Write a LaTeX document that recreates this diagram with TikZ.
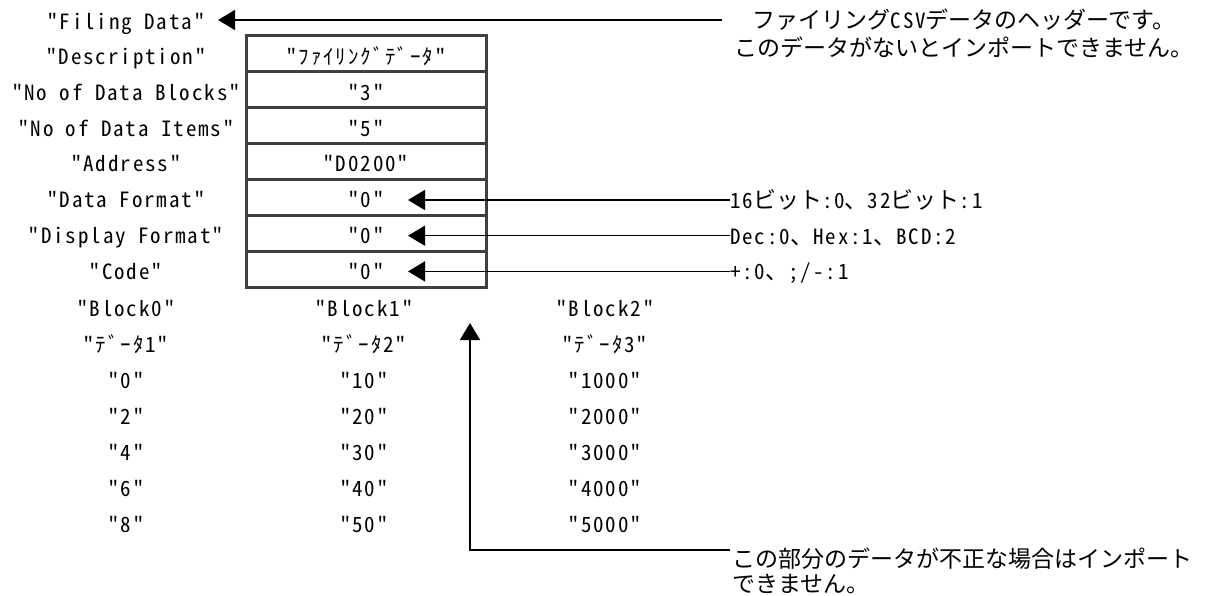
\documentclass[tikz,border=0pt]{standalone}
\usepackage{fontspec}
\usetikzlibrary{arrows.meta}
\newfontfamily\jpf{Noto Sans CJK JP}
\newfontfamily\hwf{Noto Sans CJK JP}[RawFeature=+hwid, LetterSpace=9]
\newcommand{\hwtext}[1]{{\hwf\fontsize{21bp}{25bp}\selectfont #1}}
\tikzset{
  lbl/.style={font=\hwf\fontsize{21bp}{25bp}\selectfont, inner sep=0pt, text height=15.4bp, text depth=0pt},
  jpl/.style={font=\jpf\fontsize{23bp}{27bp}\selectfont, inner sep=0pt, text height=17bp, text depth=0pt},
  cellbox/.style={draw=black!75, line width=3bp, minimum width=240bp, minimum height=36bp, inner sep=0pt},
  arr/.style={line width=1.5bp, -{Triangle[length=17bp,width=20bp]}}
}
\begin{document}
\begin{tikzpicture}[x=1bp,y=-1bp]
\useasboundingbox (0,0) rectangle (1206,596);
% table cells
\node[cellbox] (c1) at (366,54) {};
\node[cellbox] (c2) at (366,90) {};
\node[cellbox] (c3) at (366,126) {};
\node[cellbox] (c4) at (366,162) {};
\node[cellbox] (c5) at (366,198) {};
\node[cellbox] (c6) at (366,234) {};
\node[cellbox] (c7) at (366,270) {};
% left labels
\node[lbl] (l0) at (126,21.5) {"Filing Data"};
\node[lbl] (l1) at (126,57.2) {"Description"};
\node[lbl] (l2) at (126,92.9) {"No of Data Blocks"};
\node[lbl] (l3) at (126,128.6) {"No of Data Items"};
\node[lbl] (l4) at (126,164.3) {"Address"};
\node[lbl] (l5) at (126,200) {"Data Format"};
\node[lbl] (l6) at (126,235.7) {"Display Format"};
\node[lbl] (l7) at (126,271.4) {"Code"};
% values
\node[lbl] (v1) at (366,57.2) {"ﾌｧｲﾘﾝｸﾞﾃﾞｰﾀ"};
\node[lbl] (v2) at (366,92.9) {"3"};
\node[lbl] (v3) at (366,128.6) {"5"};
\node[lbl] (v4) at (366,164.3) {"D0200"};
\node[lbl] (v5) at (366,200) {"0"};
\node[lbl] (v6) at (366,235.7) {"0"};
\node[lbl] (v7) at (366,271.4) {"0"};
% blocks
\node[lbl] (b0) at (126,309) {"Block0"};
\node[lbl] (b1) at (364,309) {"Block1"};
\node[lbl] (b2) at (605,309) {"Block2"};
\node[lbl] (d0) at (126,345) {"ﾃﾞｰﾀ1"};
\node[lbl] (d1) at (364,345) {"ﾃﾞｰﾀ2"};
\node[lbl] (d2) at (605,345) {"ﾃﾞｰﾀ3"};
\node[lbl] (e00) at (126,381) {"0"};
\node[lbl] (e01) at (126,417) {"2"};
\node[lbl] (e02) at (126,453) {"4"};
\node[lbl] (e03) at (126,489) {"6"};
\node[lbl] (e04) at (126,525) {"8"};
\node[lbl] (e10) at (364,381) {"10"};
\node[lbl] (e11) at (364,417) {"20"};
\node[lbl] (e12) at (364,453) {"30"};
\node[lbl] (e13) at (364,489) {"40"};
\node[lbl] (e14) at (364,525) {"50"};
\node[lbl] (e20) at (605,381) {"1000"};
\node[lbl] (e21) at (605,417) {"2000"};
\node[lbl] (e22) at (605,453) {"3000"};
\node[lbl] (e23) at (605,489) {"4000"};
\node[lbl] (e24) at (605,525) {"5000"};
% right texts
\node[jpl] (h1) at (964,20) {ファイリング\hwtext{CSV}データのヘッダーです。};
\node[jpl] (h2) at (964,48) {このデータがないとインポートできません。};
\node[jpl, anchor=west] (n5) at (730,200) {\hwtext{16}ビット\hwtext{:0}、\hwtext{32}ビット\hwtext{:1}};
\node[jpl, anchor=west] (n6) at (730,235.7) {\hwtext{Dec:0}、\hwtext{Hex:1}、\hwtext{BCD:2}};
\node[jpl, anchor=west] (n7) at (730,271.4) {\hwtext{+:0}、\hwtext{;/-:1}};
\node[jpl, anchor=west] (bt1) at (732,559) {この部分のデータが不正な場合はインポート};
\node[jpl, anchor=west] (bt2) at (732,584) {できません。};
% connector coordinates
\coordinate (hend) at (722,20);
\coordinate (htip) at (218,20);
\coordinate (t5) at (408,200);
\coordinate (t6) at (408,235.7);
\coordinate (t7) at (408,271.4);
\coordinate (bend) at (730,550);
\coordinate (bcorner) at (470,550);
\coordinate (btip) at (470,323);
% connectors
\draw[arr] (hend) -- (htip);
\draw[arr] (n5.west) -- (t5);
\draw[arr] (n6.west) -- (t6);
\draw[arr] (n7.west) -- (t7);
\draw[arr] (bend) -- (bcorner) -- (btip);
\end{tikzpicture}
\end{document}
